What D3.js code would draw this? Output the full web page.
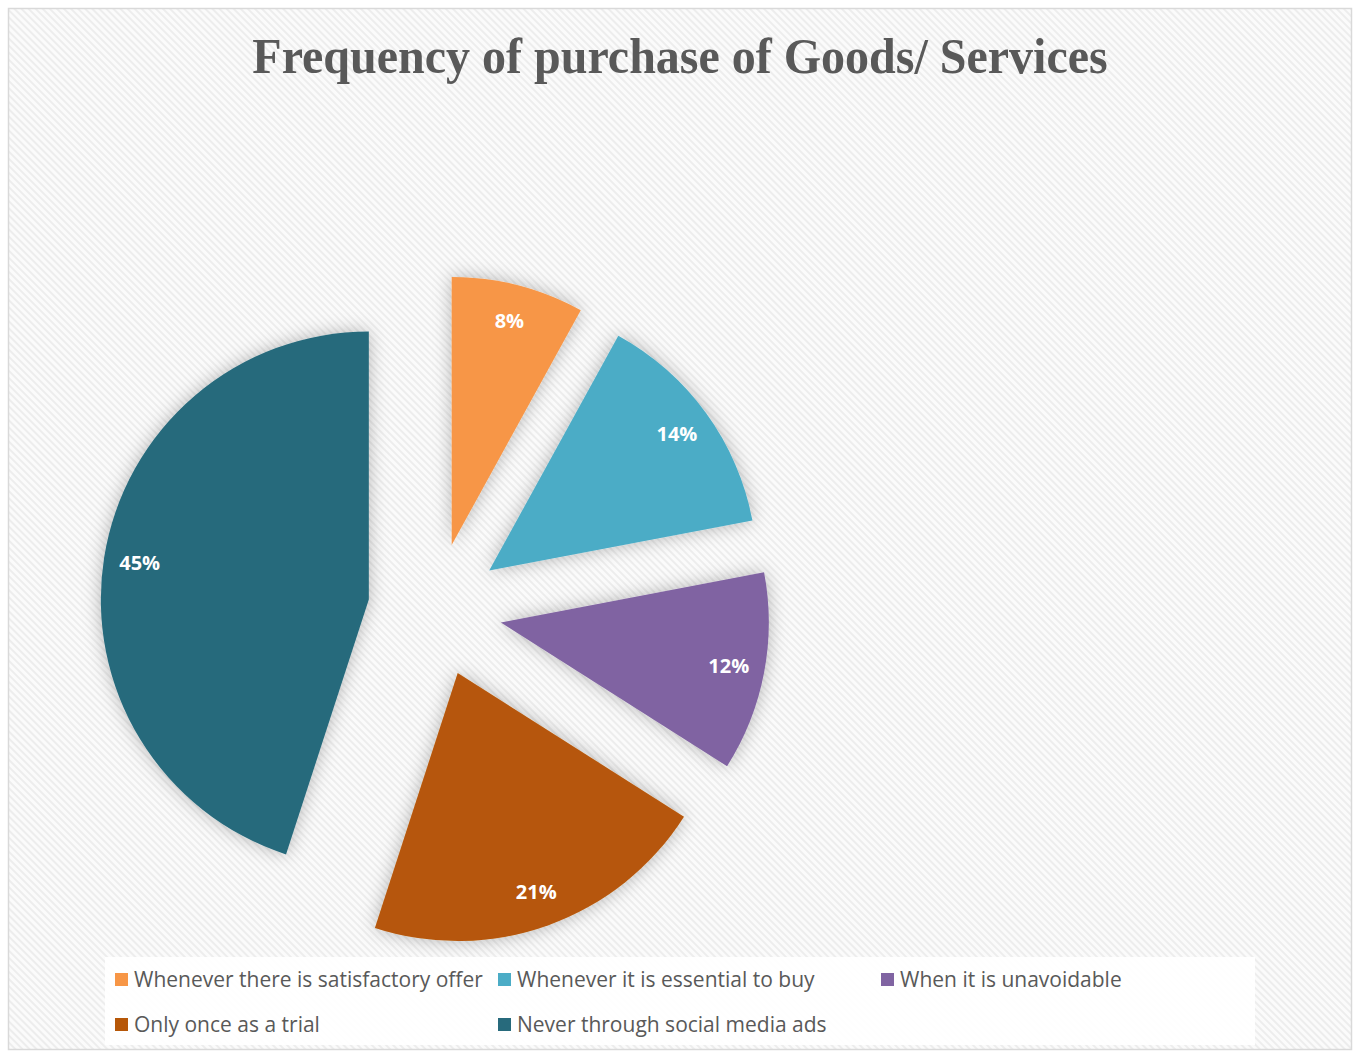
<!DOCTYPE html>
<html>
<head>
<meta charset="utf-8">
<script src="https://cdn.jsdelivr.net/npm/d3@7"></script>
<style>
  html, body { margin: 0; padding: 0; background: #ffffff; }
  svg { display: block; }
</style>
</head>
<body>
<svg id="chart" width="1356" height="1054"></svg>
<script>
// Survey answers, in the order the slices run clockwise from 12 o'clock
const categories = [
  "Whenever there is satisfactory offer",
  "Whenever it is essential to buy",
  "When it is unavoidable",
  "Only once as a trial",
  "Never through social media ads"
];
const shares = [8, 14, 12, 21, 45];
const sliceColors = ["#F79646", "#4BACC6", "#8064A2", "#B65708", "#276A7C"];
const titleText = "Frequency of purchase of Goods/ Services";

const W = 1356, H = 1054;
const svg = d3.select("#chart");
const defs = svg.append("defs");

// Fine diagonal hatching used as the chart area fill
const hatch = defs.append("pattern")
  .attr("id", "hatch")
  .attr("width", 5).attr("height", 5)
  .attr("patternUnits", "userSpaceOnUse")
  .attr("patternTransform", "rotate(45)");
hatch.append("rect").attr("width", 5).attr("height", 5).attr("fill", "#fbfbfb");
hatch.append("rect").attr("width", 5).attr("height", 2).attr("fill", "#ededed");

// Soft outer shadow around each slice
const shadow = defs.append("filter")
  .attr("id", "softShadow")
  .attr("x", "-30%").attr("y", "-30%").attr("width", "160%").attr("height", "160%");
shadow.append("feDropShadow")
  .attr("dx", 0).attr("dy", 0)
  .attr("stdDeviation", 9)
  .attr("flood-color", "#000")
  .attr("flood-opacity", 0.28);

// Chart area with border
svg.append("rect")
  .attr("x", 8.5).attr("y", 8.5)
  .attr("width", 1343).attr("height", 1041)
  .attr("fill", "url(#hatch)")
  .attr("stroke", "#d9d9d9").attr("stroke-width", 1.5);

// Title
svg.append("text")
  .attr("transform", "translate(680,73) scale(1,1.06)")
  .attr("text-anchor", "middle")
  .attr("font-family", "'Liberation Serif', 'Times New Roman', serif")
  .attr("font-weight", "bold")
  .attr("font-size", 48)
  .attr("fill", "#595959")
  .text(titleText);

// Exploded pie
const cx = 435, cy = 610, radius = 268, explode = 67;

const pie = d3.pie().sort(null).value(d => d).startAngle(0).endAngle(2 * Math.PI);
const arcs = pie(shares);
const arc = d3.arc().innerRadius(0).outerRadius(radius);
const labelArc = d3.arc().innerRadius(232).outerRadius(232);

const pieG = svg.append("g").attr("transform", `translate(${cx},${cy})`);

const slices = pieG.selectAll("g.slice")
  .data(arcs)
  .join("g")
  .attr("class", "slice")
  .attr("transform", d => {
    const a = (d.startAngle + d.endAngle) / 2;
    return `translate(${Math.sin(a) * explode},${-Math.cos(a) * explode})`;
  });

slices.append("path")
  .attr("d", arc)
  .attr("fill", (d, i) => sliceColors[i])
  .attr("filter", "url(#softShadow)");

slices.append("text")
  .attr("transform", d => {
    const [x, y] = labelArc.centroid(d);
    return `translate(${x},${y})`;
  })
  .attr("text-anchor", "middle")
  .attr("dy", "0.36em")
  .attr("font-family", "'Open Sans', 'Noto Sans', sans-serif")
  .attr("font-weight", "bold")
  .attr("font-size", 20)
  .attr("fill", "#ffffff")
  .text(d => d.data + "%");

// Legend panel
svg.append("rect")
  .attr("x", 105).attr("y", 957)
  .attr("width", 1150).attr("height", 88)
  .attr("fill", "#ffffff").attr("fill-opacity", 0.92);

const legendCols = [115, 498, 881];
const legendRows = [980, 1025];
const legend = svg.append("g")
  .selectAll("g")
  .data(categories)
  .join("g")
  .attr("transform", (d, i) => `translate(${legendCols[i % 3]},${legendRows[Math.floor(i / 3)]})`);

legend.append("rect")
  .attr("x", 0).attr("y", -7)
  .attr("width", 13).attr("height", 13)
  .attr("fill", (d, i) => sliceColors[i]);

legend.append("text")
  .attr("x", 19)
  .attr("dy", "0.35em")
  .attr("font-family", "'Open Sans', 'Noto Sans', sans-serif")
  .attr("font-size", 21)
  .attr("fill", "#595959")
  .text(d => d);
</script>
</body>
</html>
